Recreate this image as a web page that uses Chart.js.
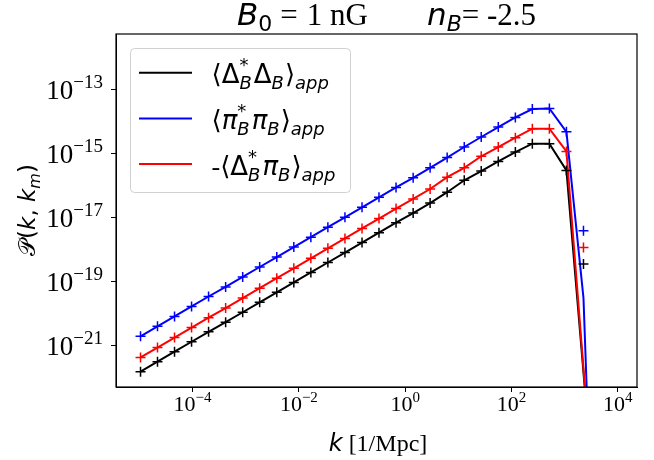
<!DOCTYPE html>
<html>
<head>
<meta charset="utf-8">
<script src="https://cdn.jsdelivr.net/npm/chart.js@4.4.0/dist/chart.umd.min.js"></script>
<style>
html, body { margin: 0; padding: 0; background: #fff; }
</style>
</head>
<body>
<canvas id="pk" width="654" height="460"></canvas>
<script>
// wavenumbers k [1/Mpc]
const kValues = [1.05e-5, 2.19e-5, 4.58e-5, 9.58e-5, 2.00e-4, 4.19e-4, 8.77e-4, 1.83e-3, 3.84e-3,
    8.03e-3, 1.68e-2, 3.51e-2, 7.35e-2, 0.154, 0.321, 0.672, 1.41, 2.94, 6.15, 12.9, 26.9, 56.3,
    118, 246, 515, 1078, 2254];
const kCutoff = 2750;

// <Delta*_B Delta_B>_app
const deltaDelta = [1.58e-22, 3.24e-22, 6.61e-22, 1.35e-21, 2.75e-21, 5.50e-21, 1.12e-20, 2.29e-20,
    4.68e-20, 9.55e-20, 1.95e-19, 3.98e-19, 8.13e-19, 1.66e-18, 3.39e-18, 6.92e-18, 1.38e-17,
    2.82e-17, 6.17e-17, 1.45e-16, 2.82e-16, 5.62e-16, 1.10e-15, 2.00e-15, 2.00e-15, 2.95e-16, 3.55e-19];
// <pi*_B pi_B>_app
const piPi = [2.00e-21, 4.07e-21, 8.32e-21, 1.70e-20, 3.47e-20, 6.92e-20, 1.41e-19, 2.88e-19,
    5.89e-19, 1.20e-18, 2.45e-18, 5.01e-18, 1.02e-17, 2.09e-17, 4.27e-17, 8.71e-17, 1.74e-16,
    3.55e-16, 7.41e-16, 1.58e-15, 3.24e-15, 6.61e-15, 1.32e-14, 2.40e-14, 2.51e-14, 4.68e-15, 3.89e-18];
// -<Delta*_B pi_B>_app
const deltaPi = [4.37e-22, 8.91e-22, 1.82e-21, 3.72e-21, 7.59e-21, 1.51e-20, 3.09e-20, 6.31e-20,
    1.29e-19, 2.63e-19, 5.37e-19, 1.10e-18, 2.24e-18, 4.57e-18, 9.33e-18, 1.91e-17, 3.80e-17,
    7.76e-17, 1.82e-16, 3.55e-16, 8.13e-16, 1.58e-15, 3.09e-15, 5.89e-15, 5.89e-15, 1.15e-15, 1.17e-18];

// the solid curves fall off steeply after the last marked k
const deltaDeltaTail = [null, 3e-24];
const piPiTail = [3.16e-20, 3e-24];
const deltaPiTail = [null, 3e-24];

const xTicks = [1e-4, 1e-2, 1, 1e2, 1e4];
const yTicks = [1e-21, 1e-19, 1e-17, 1e-15, 1e-13];

const SERIF = '"Liberation Serif", "Times New Roman", serif';
const SANS = '"DejaVu Sans", sans-serif';

function curve(vals, tail, color, order) {
    const pts = kValues.slice(0, 26).map((k, i) => ({ x: k, y: vals[i] }));
    pts.push({ x: kValues[26], y: tail[0] });
    pts.push({ x: kCutoff, y: tail[1] });
    return {
        data: pts, order, showLine: true, spanGaps: true,
        borderColor: color, borderWidth: 2, pointRadius: 0, pointHoverRadius: 0,
    };
}

function marks(vals, color) {
    return {
        data: kValues.map((k, i) => ({ x: k, y: vals[i] })), order: 0, showLine: false,
        pointStyle: 'cross', pointRadius: 5, pointBorderWidth: 1.5,
        borderColor: color, backgroundColor: color,
    };
}

// draw a row of text pieces with their own fonts, offsets and gaps
function runs(ctx, parts, x, y, measureOnly) {
    let cx = x;
    for (const p of parts) {
        if (p.stack) {
            let w = 0;
            for (const q of p.stack) {
                ctx.font = q.f;
                if (!measureOnly) ctx.fillText(q.t, cx, y + (q.dy || 0));
                w = Math.max(w, ctx.measureText(q.t).width);
            }
            cx += w + (p.gap || 0);
        } else {
            ctx.font = p.f;
            if (!measureOnly) ctx.fillText(p.t, cx, y + (p.dy || 0));
            cx += ctx.measureText(p.t).width + (p.gap || 0);
        }
    }
    return cx - x;
}

const L = 26, S = 18;
const up = `${L}px ${SANS}`, it = `italic ${L}px ${SANS}`;
const upS = `${S}px ${SANS}`, itS = `italic ${S}px ${SANS}`;
const starB = () => ({ stack: [{ t: '*', f: upS, dy: -12 }, { t: 'B', f: itS, dy: 6 }], gap: 2 });
const sub = t => ({ t, f: itS, dy: 6, gap: 1 });
const legendRows = [
    { color: '#000', parts: [{ t: '⟨', f: up }, { t: 'Δ', f: up }, starB(), { t: 'Δ', f: up },
        sub('B'), { t: '⟩', f: up }, sub('app')] },
    { color: '#0000ff', parts: [{ t: '⟨', f: up }, { t: 'π', f: it }, starB(), { t: 'π', f: it },
        sub('B'), { t: '⟩', f: up }, sub('app')] },
    { color: '#ff0000', parts: [{ t: '-', f: `${L}px ${SERIF}` }, { t: '⟨', f: up }, { t: 'Δ', f: up }, starB(),
        { t: 'π', f: it }, sub('B'), { t: '⟩', f: up }, sub('app')] },
];

function powerLabel(v, size, rise) {
    const e = Math.round(Math.log10(v));
    return [{ t: '10', f: `${size}px ${SERIF}` },
        { t: (e < 0 ? '−' : '') + Math.abs(e), f: `${Math.round(size * 0.7)}px ${SERIF}`, dy: -rise }];
}

const decor = {
    id: 'decor',
    afterDraw(chart) {
        const ctx = chart.ctx;
        const a = chart.chartArea;
        const xs = chart.scales.x, ys = chart.scales.y;
        ctx.save();
        ctx.fillStyle = '#000';
        ctx.strokeStyle = '#000';
        ctx.lineWidth = 1.2;
        ctx.strokeRect(a.left, a.top, a.right - a.left, a.bottom - a.top);
        ctx.textBaseline = 'alphabetic';
        ctx.textAlign = 'left';

        // tick labels 10^n
        for (const v of xTicks) {
            const parts = powerLabel(v, 22, 9);
            const w = runs(ctx, parts, 0, 0, true);
            runs(ctx, parts, xs.getPixelForValue(v) - w / 2, 411);
        }
        for (const v of yTicks) {
            const parts = powerLabel(v, 27, 11);
            const w = runs(ctx, parts, 0, 0, true);
            runs(ctx, parts, 103 - w, ys.getPixelForValue(v) + 9.5);
        }

        // title
        const tf = `31px ${SERIF}`;
        runs(ctx, [{ t: 'B', f: `italic 31px ${SANS}` }, { t: '0', f: `22px ${SANS}`, dy: 6, gap: 8 },
            { t: '=', f: tf, gap: 9 }, { t: '1 nG', f: tf }], 237, 25);
        runs(ctx, [{ t: 'n', f: `italic 31px ${SANS}` }, { t: 'B', f: `italic 22px ${SANS}`, dy: 6 },
            { t: '= -2.5', f: tf }], 427, 25);

        // axis titles
        const xt = [{ t: 'k', f: `italic 24px ${SANS}` }, { t: ' [1/Mpc]', f: `24px ${SERIF}` }];
        runs(ctx, xt, 378 - runs(ctx, xt, 0, 0, true) / 2, 451);
        const yf = `23px ${SANS}`, yi = `italic 23px ${SANS}`;
        const yt = [{ t: '𝒫', f: yf }, { t: '(', f: yf }, { t: 'k', f: yi }, { t: ', ', f: yf },
            { t: 'k', f: yi }, { t: 'm', f: `italic 16px ${SANS}`, dy: 5 }, { t: ')', f: yf }];
        ctx.save();
        ctx.translate(35, 210);
        ctx.rotate(-Math.PI / 2);
        runs(ctx, yt, -runs(ctx, yt, 0, 0, true) / 2, 0);
        ctx.restore();

        // legend
        ctx.beginPath();
        ctx.roundRect(130.5, 48.5, 220, 144, 4);
        ctx.fillStyle = 'rgba(255,255,255,0.8)';
        ctx.fill();
        ctx.strokeStyle = '#d0d0d0';
        ctx.lineWidth = 1;
        ctx.stroke();
        legendRows.forEach((row, i) => {
            const y = 72.7 + i * 45.7;
            ctx.strokeStyle = row.color;
            ctx.lineWidth = 2;
            ctx.beginPath();
            ctx.moveTo(139, y);
            ctx.lineTo(192, y);
            ctx.stroke();
            ctx.fillStyle = '#000';
            runs(ctx, row.parts, 211.5, y + 10.5);
        });
        ctx.restore();
    },
};

const tickGrid = { drawOnChartArea: false, drawTicks: true, tickLength: 5, color: '#000', tickWidth: 1 };

new Chart(document.getElementById('pk'), {
    type: 'scatter',
    data: {
        datasets: [
            curve(deltaPi, deltaPiTail, '#ff0000', 1),
            curve(piPi, piPiTail, '#0000ff', 2),
            curve(deltaDelta, deltaDeltaTail, '#000000', 3),
            marks(deltaDelta, '#000000'),
            marks(piPi, '#0000ff'),
            marks(deltaPi, '#ff0000'),
        ],
    },
    options: {
        responsive: false,
        animation: false,
        layout: { padding: { top: 34, right: 17, left: 0, bottom: 0 } },
        plugins: { legend: { display: false }, tooltip: { enabled: false } },
        scales: {
            x: {
                type: 'logarithmic', min: 3.63e-6, max: 2.29e4,
                afterBuildTicks: s => { s.ticks = xTicks.map(v => ({ value: v })); },
                afterFit: s => { s.height = 73; },
                ticks: { display: false },
                grid: tickGrid,
                border: { display: true, color: '#000', width: 1 },
            },
            y: {
                type: 'logarithmic', min: 5.25e-23, max: 5.25e-12,
                afterBuildTicks: s => { s.ticks = yTicks.map(v => ({ value: v })); },
                afterFit: s => { s.width = 116; },
                ticks: { display: false },
                grid: tickGrid,
                border: { display: true, color: '#000', width: 1 },
            },
        },
    },
    plugins: [decor],
});
</script>
</body>
</html>
